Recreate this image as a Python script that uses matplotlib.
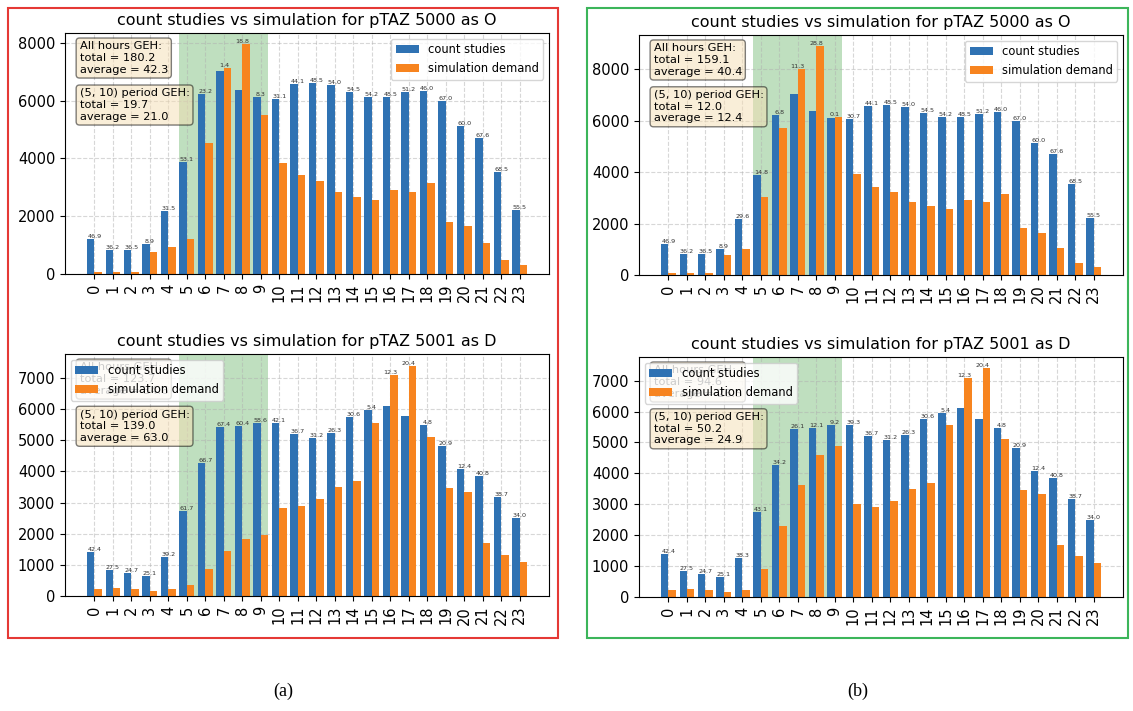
import numpy as np
import matplotlib
matplotlib.use('Agg')
import matplotlib.pyplot as plt
from matplotlib.patches import Rectangle

hours = np.arange(24)

# count studies (same in both scenarios)
count_o = [1220, 830, 830, 1030, 2180, 3870, 6210, 7030, 6370, 6110, 6060, 6580,
           6620, 6550, 6290, 6140, 6140, 6280, 6330, 5975, 5120, 4690, 3520, 2220]
count_d = [1405, 840, 730, 640, 1255, 2735, 4265, 5425, 5455, 5555, 5555, 5210,
           5080, 5240, 5750, 5955, 6100, 5760, 5480, 4815, 4075, 3835, 3165, 2495]

# simulation demand, scenario (a)
sim_o_a = [80, 70, 70, 760, 930, 1200, 4520, 7140, 7940, 5490, 3850, 3440,
           3230, 2840, 2680, 2560, 2910, 2840, 3155, 1815, 1650, 1060, 485, 300]
sim_d_a = [215, 247, 215, 150, 215, 344, 880, 1450, 1840, 1965, 2830, 2900,
           3100, 3505, 3675, 5555, 7095, 7395, 5115, 3465, 3335, 1688, 1315, 1085]

# simulation demand, scenario (b)
sim_o_b = [80, 70, 70, 760, 1020, 3030, 5710, 8000, 8890, 6130, 3920, 3440,
           3230, 2840, 2680, 2560, 2910, 2840, 3155, 1815, 1650, 1060, 485, 300]
sim_d_b = [215, 247, 215, 150, 215, 912, 2297, 3640, 4607, 4874, 3006, 2900,
           3100, 3505, 3675, 5555, 7095, 7395, 5115, 3465, 3335, 1688, 1315, 1085]

# hourly GEH labels
geh_o_a = [46.9, 36.2, 36.5, 8.9, 31.5, 53.1, 23.2, 1.4, 18.8, 8.3, 31.1, 44.1,
           48.5, 54.0, 54.5, 54.2, 48.5, 51.2, 46.0, 67.0, 60.0, 67.6, 68.5, 55.5]
geh_d_a = [42.4, 27.5, 24.7, 25.1, 39.2, 61.7, 66.7, 67.4, 60.4, 58.6, 42.1, 36.7,
           31.2, 26.3, 30.6, 5.4, 12.3, 20.4, 4.8, 20.9, 12.4, 40.8, 38.7, 34.0]
geh_o_b = [46.9, 36.2, 36.5, 8.9, 29.6, 14.8, 6.8, 11.3, 28.8, 0.1, 30.7, 44.1,
           48.5, 54.0, 54.5, 54.2, 48.5, 51.2, 46.0, 67.0, 60.0, 67.6, 68.5, 55.5]
geh_d_b = [42.4, 27.5, 24.7, 25.1, 38.3, 43.1, 34.2, 26.1, 12.1, 9.2, 39.3, 36.7,
           31.2, 26.3, 30.6, 5.4, 12.3, 20.4, 4.8, 20.9, 12.4, 40.8, 38.7, 34.0]

# summary boxes: (all hours total, average), (period total, average)
summ_o_a = [(180.2, 42.3), (19.7, 21.0)]
summ_d_a = [(123.7, 34.6), (139.0, 63.0)]
summ_o_b = [(159.1, 40.4), (12.0, 12.4)]
summ_d_b = [(94.6, 26.5), (50.2, 24.9)]

period = (5, 10)
width = 0.4


def draw(ax, counts, sims, gehs, summ, title, legend_loc):
    # shaded period sits under the grid and the bars
    ax.axvspan(period[0] - width, period[1] - 1 + width, color='green', alpha=0.25, lw=0, zorder=0.3)
    ax.bar(hours - width / 2, counts, width, label='count studies', color='#2f72b3')
    ax.bar(hours + width / 2, sims, width, label='simulation demand', color='#f7841f')
    for h, c, s, g in zip(hours, counts, sims, gehs):
        ax.text(h, max(c, s), f'{g:.1f}', ha='center', va='bottom', fontsize=4.6, color='#333333')
    ax.set_title(title, fontsize=11.5)
    ax.set_xticks(hours)
    ax.set_xticklabels([str(h) for h in hours], rotation=90)
    ax.tick_params(labelsize=10.5)
    ax.grid(True, linestyle='--', alpha=0.5)
    ax.set_axisbelow(True)
    props = dict(boxstyle='round', facecolor='wheat', alpha=0.5)
    ax.text(0.03, 0.965, 'All hours GEH:\ntotal = %.1f\naverage = %.1f' % summ[0],
            transform=ax.transAxes, fontsize=8.2, va='top', bbox=props)
    ax.text(0.03, 0.77, '%s period GEH:\ntotal = %.1f\naverage = %.1f' % ((period,) + summ[1]),
            transform=ax.transAxes, fontsize=8.2, va='top', bbox=props)
    ax.legend(loc=legend_loc, fontsize=8.3)


fig = plt.figure(figsize=(11.33, 7.11), dpi=100)

ax1 = fig.add_axes([0.0574, 0.6146, 0.4272, 0.339])
ax2 = fig.add_axes([0.0574, 0.1617, 0.4272, 0.3404])
ax3 = fig.add_axes([0.564, 0.6132, 0.4272, 0.3376])
ax4 = fig.add_axes([0.564, 0.1603, 0.4272, 0.3376])

draw(ax1, count_o, sim_o_a, geh_o_a, summ_o_a, 'count studies vs simulation for pTAZ 5000 as O', 'upper right')
draw(ax2, count_d, sim_d_a, geh_d_a, summ_d_a, 'count studies vs simulation for pTAZ 5001 as D', 'upper left')
draw(ax3, count_o, sim_o_b, geh_o_b, summ_o_b, 'count studies vs simulation for pTAZ 5000 as O', 'upper right')
draw(ax4, count_d, sim_d_b, geh_d_b, summ_d_b, 'count studies vs simulation for pTAZ 5001 as D', 'upper left')

# frames around the two scenarios
W, H = 1133, 711
fig.patches.append(Rectangle((8 / W, 1 - 638 / H), 550 / W, 630 / H, transform=fig.transFigure,
                             fill=False, edgecolor='#e53935', lw=1.5))
fig.patches.append(Rectangle((587 / W, 1 - 638 / H), 541 / W, 630 / H, transform=fig.transFigure,
                             fill=False, edgecolor='#3cb55a', lw=1.5))

fig.text(283 / W, 1 - 691 / H, '(a)', ha='center', va='center', fontsize=13, family='Liberation Serif')
fig.text(858 / W, 1 - 691 / H, '(b)', ha='center', va='center', fontsize=13, family='Liberation Serif')

fig.savefig('out.png', dpi=100)
